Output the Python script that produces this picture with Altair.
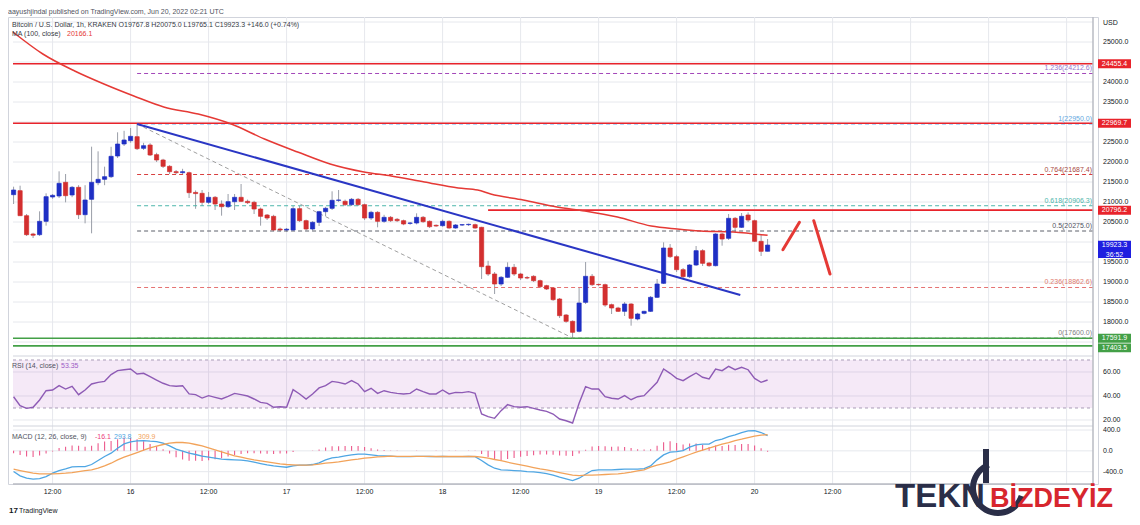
import altair as alt
import pandas as pd

# ---------------- data (hours since 2022-06-16 00:00 UTC) ----------------
HOURS = list(range(-18, 99))
OPEN = [21183, 21283, 20658, 20200, 20183, 20517, 21125, 21150, 21492, 21175,
        21367, 20683, 21067, 21483, 21567, 21633, 22150, 22450, 22533, 22633,
        22342, 22425, 22183, 22050, 21892, 21758, 21733, 21733, 21240, 21217,
        20992, 21117, 20950, 20883, 21008, 21117, 21017, 20992, 20825, 20675,
        20642, 20325, 20300, 20300, 20833, 20533, 20325, 20492, 20758, 20842,
        21042, 21017, 20933, 21067, 20933, 20600, 20742, 20517, 20617, 20567,
        20533, 20467, 20475, 20617, 20517, 20417, 20408, 20517, 20350, 20425,
        20433, 20433, 20367, 19400, 19200, 18950, 19117, 19367, 19200, 19110,
        19142, 19033, 18908, 18850, 18575, 18175, 18017, 17767, 18492, 19142,
        18940, 18933, 18433, 18350, 18267, 18450, 18075, 18217, 18267, 18617,
        18967, 19850, 19633, 19308, 19133, 19425, 19783, 19475, 19408, 20200,
        20092, 20592, 20367, 20675, 20533, 20017, 19767.8]
HIGH = [21383, 21408, 20700, 20230, 20767, 21217, 21200, 21767, 21700, 21400,
        21420, 21420, 22383, 22267, 21883, 22380, 22742, 22780, 22850, 22950,
        22480, 22470, 22230, 22080, 21920, 21800, 21830, 21760, 21290, 21300,
        21250, 21150, 21040, 21200, 21200, 21450, 21060, 21030, 20860, 20700,
        20680, 20360, 20350, 20900, 20900, 20560, 20520, 20780, 20880, 21267,
        21300, 21060, 21100, 21100, 20960, 20780, 20770, 20680, 20650, 20600,
        20560, 20500, 20717, 20650, 20540, 20440, 20560, 20540, 20450, 20450,
        20460, 20460, 20380, 19530, 19250, 19150, 19492, 19450, 19230, 19150,
        19170, 19060, 18930, 18870, 18600, 18200, 18040, 18867, 19500, 19200,
        18960, 18960, 18460, 18380, 18500, 18470, 18230, 18280, 18650, 19075,
        19992, 19950, 19680, 19350, 19450, 19900, 19820, 19500, 20220, 20230,
        20700, 20625, 20725, 20740, 20560, 20180, 20075.0]
LOW = [20950, 20650, 20150, 20100, 20150, 20408, 21080, 21100, 20992, 21120,
       20575, 20467, 20217, 21420, 21420, 21600, 22100, 22400, 22480, 22300,
       22300, 22150, 22000, 21850, 21700, 21700, 21700, 21100, 20830, 20900,
       20950, 20800, 20658, 20850, 20800, 21000, 20950, 20700, 20408, 20550,
       20270, 20260, 20260, 20280, 20500, 20290, 20290, 20400, 20650, 20800,
       21000, 20900, 20900, 20900, 20550, 20550, 20367, 20480, 20500, 20500,
       20420, 20430, 20440, 20480, 20350, 20380, 20380, 20330, 20330, 20400,
       20400, 20330, 19075, 19150, 18700, 18900, 19100, 19150, 19050, 19070,
       19000, 18850, 18800, 18530, 18100, 17980, 17600, 17740, 18450, 18900,
       18900, 18380, 18200, 18250, 18150, 17908, 18040, 18190, 18250, 18600,
       18950, 19600, 19250, 19080, 19100, 19400, 19400, 19380, 19390, 19908,
       20050, 20250, 20350, 20500, 20000, 19650, 19765.1]
CLOSE = [21300, 20658, 20183, 20170, 20517, 21133, 21167, 21467, 21158, 21367,
         20683, 21050, 21492, 21567, 21633, 22142, 22450, 22550, 22642, 22333,
         22408, 22175, 22050, 21892, 21758, 21733, 21758, 21233, 21210, 20992,
         21117, 20950, 20883, 21008, 21117, 21017, 20983, 20825, 20642, 20600,
         20300, 20300, 20320, 20833, 20533, 20325, 20492, 20758, 20842, 21042,
         21050, 20933, 21067, 20933, 20600, 20742, 20517, 20617, 20533, 20533,
         20450, 20475, 20617, 20508, 20383, 20400, 20517, 20350, 20425, 20433,
         20442, 20350, 19383, 19200, 18950, 19117, 19367, 19200, 19100, 19100,
         19033, 18883, 18825, 18558, 18158, 18017, 17742, 18475, 19142, 18933,
         18933, 18425, 18350, 18267, 18450, 18092, 18200, 18267, 18617, 18950,
         19850, 19633, 19308, 19133, 19425, 19783, 19467, 19408, 20200, 20075,
         20592, 20367, 20642, 20550, 20017, 19767, 19923.3]
RSI = [39.4, 32, 29.7, 30.6, 36.7, 44.4, 45, 48.6, 45.8, 48,
       41.1, 45, 50, 51.4, 52.2, 57.8, 61.1, 61.9, 62.5, 58.3,
       58.9, 56.1, 53.3, 50.6, 48.6, 48.1, 48.6, 41.7, 41.1, 38.3,
       40.3, 38.9, 37.5, 39.7, 42.2, 41.1, 40, 37.5, 34.7, 33.9,
       30.6, 31.1, 30.6, 45.3, 41.7, 37.5, 41.7, 46.7, 48.6, 52.2,
       51.4, 50, 52.8, 50, 43.6, 46.4, 42.2, 44.4, 43, 42.2,
       41.7, 42.2, 45.8, 43.6, 41.7, 41.7, 45, 41.7, 43, 42.8,
       43.6, 42.2, 25, 22.8, 21.4, 27.8, 32.8, 31.1, 30.6, 31.1,
       29.7, 28.3, 27.2, 25, 20.8, 19.4, 17.5, 33.9, 47.8, 45.8,
       45.8, 39.4, 38.1, 37.5, 40.3, 36.9, 39.4, 40.3, 45.8, 51.4,
       62.5, 58.9, 54.7, 52.8, 56.1, 59.2, 55.6, 54.2, 62.5, 61.1,
       64.7, 61.9, 63.9, 61.9, 54.7, 51.4, 53.35]
MACD = [-397, -480, -525, -544, -531, -493, -429, -378, -346, -307,
        -301, -301, -262, -186, -109, -45, 51, 134, 173, 192,
        198, 186, 179, 147, 96, 32, -6, -45, -70, -102,
        -122, -141, -160, -166, -173, -179, -192, -218, -243, -269,
        -288, -301, -314, -288, -275, -275, -262, -230, -173, -134,
        -122, -96, -77, -64, -64, -77, -90, -96, -102, -109,
        -109, -109, -105, -105, -108, -110, -108, -110, -110, -109,
        -108, -110, -186, -269, -333, -365, -371, -378, -384, -397,
        -403, -416, -435, -467, -506, -538, -570, -525, -448, -378,
        -365, -365, -365, -358, -352, -352, -352, -339, -288, -173,
        -77, -26, -13, 6, 70, 115, 128, 128, 198, 224,
        275, 307, 352, 384, 390, 352, 293.8]
SIGNAL = [-352, -378, -403, -429, -442, -442, -442, -435, -429, -416,
          -397, -378, -365, -333, -288, -237, -173, -122, -77, -32,
          13, 58, 90, 122, 147, 160, 160, 147, 122, 96,
          58, 19, -19, -58, -96, -122, -147, -173, -192, -211,
          -230, -250, -262, -269, -275, -275, -269, -256, -237, -224,
          -211, -192, -173, -160, -141, -128, -115, -109, -102, -105,
          -106, -107, -107, -107, -107, -108, -108, -108, -108, -108,
          -108, -108, -122, -141, -166, -186, -218, -243, -269, -294,
          -320, -346, -365, -390, -416, -442, -467, -474, -467, -467,
          -461, -454, -448, -442, -429, -410, -384, -365, -314, -275,
          -243, -211, -160, -115, -70, -26, 13, 51, 90, 128,
          160, 198, 224, 256, 282, 301, 309.9]
HIST = [-45, -80, -110, -120, -90, -50, -10, 55, 80, 105,
        100, 80, 100, 145, 180, 190, 225, 255, 250, 225,
        185, 130, 90, 30, -50, -125, -165, -190, -190, -195,
        -180, -160, -140, -110, -80, -60, -45, -45, -50, -55,
        -60, -50, -50, -20, 0, 0, 5, 25, 65, 90,
        90, 95, 95, 95, 75, 50, 25, 15, 5, -3,
        2, 3, 5, 4, 1, -2, 2, -1, -2, 3,
        5, -2, -60, -120, -165, -180, -155, -135, -115, -100,
        -85, -70, -70, -75, -90, -95, -100, -50, 20, 85,
        95, 90, 80, 85, 75, 55, 30, 25, 30, 100,
        165, 185, 150, 120, 140, 140, 115, 75, 105, 95,
        115, 110, 130, 130, 105, 50, -16.1]
for arr in (OPEN, HIGH, LOW, CLOSE, RSI, MACD, SIGNAL, HIST):
    assert len(arr) == len(HOURS), len(arr)

MA_H = [-18.1, -13.5, -8.6, -4.1, 0.5, 5.1, 10.4, 15.5, 20.6, 25.7, 30.7, 35.9, 40.1,
        45.2, 50.4, 53.4, 55.4, 60.4, 65.6, 69.9, 74.9, 80.1, 84.1, 87.7, 92.7, 98]
MA_P = [25250, 24700, 24275, 23950, 23650, 23375, 23200, 22950, 22575, 22250, 21950, 21750, 21650,
        21500, 21350, 21300, 21200, 21050, 20875, 20775, 20625, 20400, 20325, 20275, 20250, 20166.1]

TREND_H = [1, 93.8]
TREND_P = [22950, 18675]
DIAG_H = [1, 68]
DIAG_P = [22950, 17600]
SCRIB_SEG = ["a", "a", "b", "b"]
SCRIB_H = [100.35, 102.9, 105.1, 107.6]
SCRIB_P = [19808, 20493, 20533, 19200]

LEVEL_P = [24455.4, 22969.7, 20796.2, 17591.9, 17403.5]
LEVEL_COL = ["#e8232b", "#e8232b", "#e8232b", "#43a047", "#43a047"]
LEVEL_FROM_H = [None, None, 55, None, None]   # None = whole width

FIB_LVL = ["1.236", "1", "0.764", "0.618", "0.5", "0.236", "0"]
FIB_P = [24212.6, 22950.0, 21687.4, 20906.3, 20275.0, 18862.6, 17600.0]
FIB_LINE = ["#a347ba", "#64b5f6", "#d84040", "#4db6ac", "#5d606b", "#e57373", "#9e9e9e"]
FIB_TXT = ["#9575cd", "#64a8e0", "#a84a44", "#4db6ac", "#50535e", "#e07a6e", "#808080"]

PRICE_GRID = list(range(17500, 25501, 500))
PRICE_TICKS = [18000, 18500, 19000, 19500, 20500, 21000, 21500, 22000, 22500, 23500, 24000, 25000]
RSI_TICKS = [60, 40, 20]
MACD_TICKS = [400, 0, -400]
TIME_TICKS = list(range(-12, 145, 12))
TIME_LABEL_H = list(range(-12, 109, 12))
TIME_LABELS = ["12:00", "16", "12:00", "17", "12:00", "18", "12:00", "19", "12:00", "20", "12:00"]

# ---------------- layout / style ----------------
FONT = "Liberation Sans"
X_MIN, X_MAX = -18.09, 148.06
W = 1090
H_MAIN, H_RSI, H_MACD = 339, 70, 58
Y_RSI = H_MAIN                 # top of RSI pane
Y_MACD = H_MAIN + H_RSI        # top of MACD pane
H_ALL = H_MAIN + H_RSI + H_MACD
PX_PRICE = (25625 - 17150) / H_MAIN
GRID = "#e6e8ed"
AXC = "#b8bbc3"
SEP = "#d1d4dc"
TXT = "#131722"
NAVY = "#2a2e48"

xs = alt.Scale(domain=[X_MIN, X_MAX], nice=False, zero=False)
ps = alt.Scale(domain=[17150, 25625], range=[H_MAIN, 0], nice=False, zero=False)
rs = alt.Scale(domain=[15, 73.33], range=[Y_MACD, Y_RSI], nice=False, zero=False)
ms = alt.Scale(domain=[-636, 477], range=[H_ALL, Y_MACD], nice=False, zero=False)


def X(f):
    return alt.X(f, scale=xs, axis=None)


def P(f):
    return alt.Y(f, scale=ps, axis=None)


def txt(t, x, y, color=TXT, size=7, align="left", baseline="middle", weight="normal", dy=0):
    return alt.Chart(pd.DataFrame({"t": [t]})).mark_text(
        align=align, baseline=baseline, fontSize=size, color=color, font=FONT,
        fontWeight=weight, dy=dy
    ).encode(x=alt.value(x), y=alt.value(y), text="t:N")


def hgrid(vals, scale):
    return alt.Chart(pd.DataFrame({"v": vals, "x0": [X_MIN] * len(vals), "x1": [X_MAX] * len(vals)})).mark_rule(
        color=GRID, strokeWidth=1).encode(x=X("x0:Q"), x2="x1:Q", y=alt.Y("v:Q", scale=scale, axis=None))


def ylabels(vals, fmt, scale):
    return alt.Chart(pd.DataFrame({"v": vals, "t": [format(v, fmt) for v in vals]})).mark_text(
        align="left", baseline="middle", fontSize=7, font=FONT, color=TXT).encode(
        x=alt.value(W + 5), y=alt.Y("v:Q", scale=scale, axis=None), text="t:N")


def hsep(y):
    return alt.Chart(pd.DataFrame({"x0": [X_MIN], "x1": [X_MAX]})).mark_rule(
        color=SEP, strokeWidth=1).encode(x=X("x0:Q"), x2="x1:Q", y=alt.value(y))


def badge(prices, texts, colors, up_px, down_px, dy=0, second=None):
    """price-axis tag: rectangle spanning up_px above / down_px below the price"""
    df = pd.DataFrame({"p": prices, "t": texts, "col": colors})
    df["top"] = df["p"] + up_px * PX_PRICE
    df["bot"] = df["p"] - down_px * PX_PRICE
    box = alt.Chart(df).mark_rect().encode(
        x=alt.value(W), x2=alt.value(W + 33), y=P("top:Q"), y2="bot:Q",
        color=alt.Color("col:N", scale=None))
    lab = alt.Chart(df).mark_text(color="white", fontSize=7, font=FONT, dy=dy).encode(
        x=alt.value(W + 16.5), y=P("p:Q"), text="t:N")
    layers = [box, lab]
    if second is not None:
        df2 = df.assign(t2=second)
        layers.append(alt.Chart(df2).mark_text(color="white", fontSize=7, font=FONT, dy=9.5).encode(
            x=alt.value(W + 16.5), y=P("p:Q"), text="t2:N"))
    return layers


# ---------------- grid & frame ----------------
vgrid = alt.Chart(pd.DataFrame({"h": TIME_TICKS})).mark_rule(color=GRID, strokeWidth=1).encode(
    x=X("h:Q"), y=alt.value(0), y2=alt.value(H_ALL))
right_border = alt.Chart(pd.DataFrame({"x": [X_MAX]})).mark_rule(color=AXC, strokeWidth=1.5).encode(
    x=X("x:Q"), y=alt.value(0), y2=alt.value(H_ALL))
bottom_line = alt.Chart(pd.DataFrame({"x0": [X_MIN], "x1": [X_MAX]})).mark_rule(
    color=AXC, strokeWidth=1.5).encode(x=X("x0:Q"), x2="x1:Q", y=alt.value(H_ALL))

# ---------------- main price pane ----------------
cdf = pd.DataFrame({"h": HOURS, "o": OPEN, "hi": HIGH, "lo": LOW, "c": CLOSE})
cdf["dir"] = ["up" if c >= o else "down" for o, c in zip(OPEN, CLOSE)]
dir_scale = alt.Scale(domain=["up", "down"], range=["#1f2fc4", "#d32f2f"])

wicks = alt.Chart(cdf).mark_rule(color="#9a9ea8", strokeWidth=1, clip=True).encode(
    x=X("h:Q"), y=P("lo:Q"), y2="hi:Q")
bodies = alt.Chart(cdf).mark_bar(size=4.2, strokeWidth=0.7, clip=True).encode(
    x=X("h:Q"), y=P("o:Q"), y2="c:Q",
    fill=alt.Fill("dir:N", scale=dir_scale, legend=None),
    stroke=alt.Stroke("dir:N", scale=dir_scale, legend=None))

fib_df = pd.DataFrame({
    "p": FIB_P, "x0": [1] * len(FIB_P), "x1": [X_MAX] * len(FIB_P),
    "lc": FIB_LINE, "tc": FIB_TXT,
    "lab": [f"{l}({p:.1f})" for l, p in zip(FIB_LVL, FIB_P)],
})
fib_lines = alt.Chart(fib_df).mark_rule(strokeDash=[4, 3], strokeWidth=1).encode(
    x=X("x0:Q"), x2="x1:Q", y=P("p:Q"), color=alt.Color("lc:N", scale=None))
fib_labels = alt.Chart(fib_df).mark_text(align="right", baseline="bottom", dy=-2,
                                         fontSize=7, font=FONT).encode(
    x=alt.value(1084), y=P("p:Q"), text="lab:N", color=alt.Color("tc:N", scale=None))

lvl_df = pd.DataFrame({"p": LEVEL_P,
                       "x0": [X_MIN if s is None else s for s in LEVEL_FROM_H],
                       "x1": [X_MAX] * len(LEVEL_P), "col": LEVEL_COL})
levels = alt.Chart(lvl_df).mark_rule(strokeWidth=1.6).encode(
    x=X("x0:Q"), x2="x1:Q", y=P("p:Q"), color=alt.Color("col:N", scale=None))

ma = alt.Chart(pd.DataFrame({"h": MA_H, "p": MA_P})).mark_line(
    color="#e53935", strokeWidth=1.5, interpolate="monotone", clip=True).encode(x=X("h:Q"), y=P("p:Q"))
trend = alt.Chart(pd.DataFrame({"h": TREND_H, "p": TREND_P})).mark_line(
    color="#2a36c4", strokeWidth=2).encode(x=X("h:Q"), y=P("p:Q"))
diag = alt.Chart(pd.DataFrame({"h": DIAG_H, "p": DIAG_P})).mark_line(
    color="#a0a0a0", strokeWidth=1, strokeDash=[4, 3]).encode(x=X("h:Q"), y=P("p:Q"))
scrib = alt.Chart(pd.DataFrame({"s": SCRIB_SEG, "h": SCRIB_H, "p": SCRIB_P})).mark_line(
    color="#e53935", strokeWidth=3, strokeCap="round").encode(x=X("h:Q"), y=P("p:Q"), detail="s:N")

badge_layers = (
    badge(LEVEL_P[:4], [f"{p:.1f}" for p in LEVEL_P[:4]], LEVEL_COL[:4], 4.5, 4.5)
    + badge([LEVEL_P[4]], [f"{LEVEL_P[4]:.1f}"], [LEVEL_COL[4]], 2.4, 6.4, dy=2)
    + badge([CLOSE[-1]], [f"{CLOSE[-1]:.1f}"], ["#1f1fe0"], 4.3, 12.9, second=["36:52"])
)

# ---------------- RSI pane ----------------
rsi_df = pd.DataFrame({"h": HOURS, "rsi": RSI})
band = alt.Chart(pd.DataFrame({"x0": [X_MIN], "x1": [X_MAX], "lo": [30], "hi": [70]})).mark_rect(
    color="#9c27b0", opacity=0.1).encode(
    x=X("x0:Q"), x2="x1:Q", y=alt.Y("lo:Q", scale=rs, axis=None), y2="hi:Q")
band_lines = alt.Chart(pd.DataFrame({"x0": [X_MIN, X_MIN], "x1": [X_MAX, X_MAX], "v": [30, 70]})).mark_rule(
    color="#a99cb8", strokeDash=[3, 3], strokeWidth=1).encode(
    x=X("x0:Q"), x2="x1:Q", y=alt.Y("v:Q", scale=rs, axis=None))
rsi_line = alt.Chart(rsi_df).mark_line(color="#8e5bb5", strokeWidth=1.4, clip=True).encode(
    x=X("h:Q"), y=alt.Y("rsi:Q", scale=rs, axis=None))

# ---------------- MACD pane ----------------
mdf = pd.DataFrame({"h": HOURS, "macd": MACD, "sig": SIGNAL, "hist": HIST, "zero": [0] * len(HOURS)})
hist = alt.Chart(mdf).mark_rule(color="#ec5a8c", strokeWidth=1.1, clip=True).encode(
    x=X("h:Q"), y=alt.Y("zero:Q", scale=ms, axis=None), y2="hist:Q")
macd_line = alt.Chart(mdf).mark_line(color="#4fa6e3", strokeWidth=1.3, clip=True).encode(
    x=X("h:Q"), y=alt.Y("macd:Q", scale=ms, axis=None))
sig_line = alt.Chart(mdf).mark_line(color="#f2a35a", strokeWidth=1.3, clip=True).encode(
    x=X("h:Q"), y=alt.Y("sig:Q", scale=ms, axis=None))
time_labels = alt.Chart(pd.DataFrame({"h": TIME_LABEL_H, "t": TIME_LABELS})).mark_text(
    baseline="middle", align="center", fontSize=7, font=FONT, color=TXT).encode(
    x=X("h:Q"), y=alt.value(H_ALL + 8), text="t:N")

# watermark logo (ring + stem) behind the red word
logo_ring = alt.Chart(pd.DataFrame({"k": [0]})).mark_arc(
    radius=28, radius2=22, theta=1.9, theta2=5.9, color=NAVY).encode(
    x=alt.value(990), y=alt.value(Y_MACD + 62))
logo_stem = alt.Chart(pd.DataFrame({"k": [0]})).mark_rule(color=NAVY, strokeWidth=6).encode(
    x=alt.value(978), y=alt.value(Y_MACD + 23), y2=alt.value(Y_MACD + 57))

chart = alt.layer(
    hgrid(PRICE_GRID, ps), hgrid(RSI_TICKS, rs), hgrid(MACD_TICKS, ms), vgrid,
    # price pane
    wicks, fib_lines, levels, diag, ma, trend, bodies, scrib, fib_labels,
    ylabels(PRICE_TICKS, ".1f", ps), *badge_layers,
    txt("aayushjindal published on TradingView.com, Jun 20, 2022 02:21 UTC", 0, -5, color="#50535e"),
    txt("Bitcoin / U.S. Dollar, 1h, KRAKEN  O19767.8  H20075.0  L19765.1  C19923.3  +146.0 (+0.74%)",
        4, 7.5, color="#363a45"),
    txt("MA (100, close)", 4, 16.5, color="#363a45"),
    txt("20166.1", 59, 16.5, color="#e53935"),
    txt("USD", W + 5, 6, color=TXT),
    # RSI pane
    band, band_lines, rsi_line, ylabels(RSI_TICKS, ".2f", rs),
    txt("RSI (14, close)", 4, Y_RSI + 10, color="#50535e"),
    txt("53.35", 53, Y_RSI + 10, color="#9c5bc5"),
    # MACD pane
    hist, macd_line, sig_line, ylabels(MACD_TICKS, ".1f", ms), time_labels,
    txt("MACD (12, 26, close, 9)", 4, Y_MACD + 11, color="#50535e"),
    txt("-16.1", 87, Y_MACD + 11, color="#ec407a"),
    txt("293.8", 106, Y_MACD + 11, color="#4fa6e3"),
    txt("309.9", 130, Y_MACD + 11, color="#f2a35a"),
    # frame
    hsep(Y_RSI), hsep(Y_MACD), bottom_line, right_border,
    # footer / watermark
    txt("17", 1, Y_MACD + 85, color=TXT, size=8, weight="bold"),
    txt("TradingView", 11, Y_MACD + 85, color=TXT, size=7),
    logo_ring, logo_stem,
    txt("TEKN", 887, Y_MACD + 81, color=NAVY, size=33, weight="bold", baseline="alphabetic"),
    txt("BİZDEYİZ", 982, Y_MACD + 81, color="#d7262e", size=27, weight="bold", baseline="alphabetic"),
).resolve_scale(y="independent").properties(
    width=W, height=H_ALL, padding=0
).configure_view(stroke=SEP, strokeWidth=1)

chart.save("out.html", embed_options={"renderer": "svg", "actions": False})
